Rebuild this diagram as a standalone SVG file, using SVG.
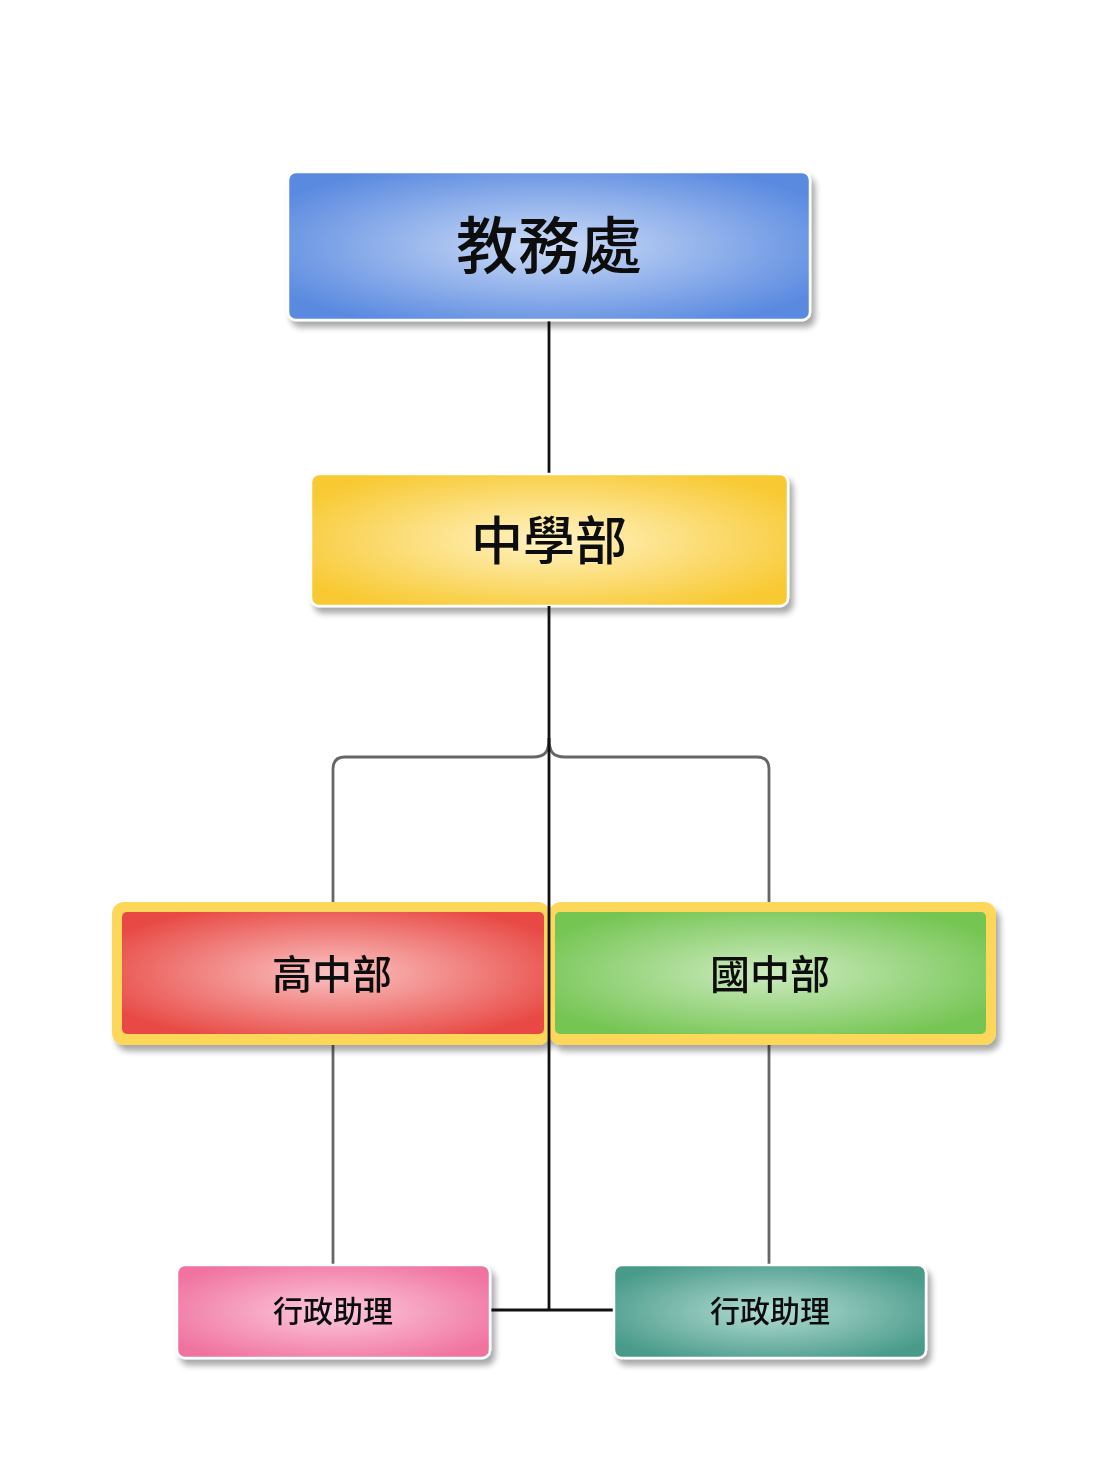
<svg xmlns="http://www.w3.org/2000/svg" width="1120" height="1462" viewBox="0 0 1120 1462">
<style>
.t{font-family:"Noto Sans CJK TC","Noto Sans CJK SC",sans-serif;font-weight:500;fill:#111;text-anchor:middle;dominant-baseline:central}
.box{stroke:#fff;stroke-width:2.5}
.blk{stroke:#111;stroke-width:2.8;fill:none}
.gry{stroke:#666;stroke-width:2.8;fill:none}
</style>
<defs>
<filter id="sh" x="-10%" y="-20%" width="125%" height="150%">
<feGaussianBlur in="SourceAlpha" stdDeviation="3"/>
<feOffset dx="4" dy="6" result="b"/>
<feComponentTransfer><feFuncA type="linear" slope="0.35"/></feComponentTransfer>
<feMerge><feMergeNode/><feMergeNode in="SourceGraphic"/></feMerge>
</filter>
<radialGradient id="gB" cx="0.5" cy="0.5" r="0.6"><stop offset="0" stop-color="#cddcf7"/><stop offset="1" stop-color="#5a8ae0"/></radialGradient>
<radialGradient id="gY" cx="0.5" cy="0.5" r="0.6"><stop offset="0" stop-color="#fff3c4"/><stop offset="1" stop-color="#f8c932"/></radialGradient>
<radialGradient id="gR" cx="0.5" cy="0.5" r="0.6"><stop offset="0" stop-color="#fac3c3"/><stop offset="1" stop-color="#e84a45"/></radialGradient>
<radialGradient id="gG" cx="0.5" cy="0.5" r="0.6"><stop offset="0" stop-color="#cdebc0"/><stop offset="1" stop-color="#74c552"/></radialGradient>
<radialGradient id="gP" cx="0.5" cy="0.5" r="0.6"><stop offset="0" stop-color="#fccadd"/><stop offset="1" stop-color="#f0739f"/></radialGradient>
<radialGradient id="gT" cx="0.5" cy="0.5" r="0.6"><stop offset="0" stop-color="#b3dcd3"/><stop offset="1" stop-color="#489a89"/></radialGradient>
</defs>
<rect width="1120" height="1462" fill="#fff"/>
<g id="connectors">
<path class="blk" d="M549 320V474"/>
<path class="gry" d="M549 738C549 752 545 757 533 757H345Q333 757 333 769V906"/>
<path class="gry" d="M549 738C549 752 553 757 565 757H757Q769 757 769 769V902"/>
<path class="gry" d="M333 1045V1265"/>
<path class="gry" d="M769 1045V1265"/>
<path class="blk" d="M490 1310H614"/>
</g>
<g id="n1" filter="url(#sh)"><rect class="box" x="288" y="172" width="522" height="148" rx="8" fill="url(#gB)"/><text class="t" x="549" y="242" font-size="62">教務處</text></g>
<g id="n2" filter="url(#sh)"><rect class="box" x="311" y="474" width="477" height="132" rx="8" fill="url(#gY)"/><text class="t" x="549" y="537" font-size="52">中學部</text></g>
<g id="n3" filter="url(#sh)"><rect x="112" y="902" width="438" height="143" rx="12" fill="#fdd75a"/><rect x="122" y="912" width="422" height="122" rx="5" fill="url(#gR)"/><text class="t" x="332" y="972" font-size="40">高中部</text></g>
<g id="n4" filter="url(#sh)"><rect x="549" y="902" width="447" height="143" rx="12" fill="#fdd75a"/><rect x="555" y="912" width="431" height="122" rx="5" fill="url(#gG)"/><text class="t" x="770" y="972" font-size="40">國中部</text></g>
<path class="blk" d="M549 606V1310"/>
<g id="n5" filter="url(#sh)"><rect class="box" x="177" y="1265" width="313" height="93" rx="8" fill="url(#gP)"/><text class="t" x="333" y="1309" font-size="30">行政助理</text></g>
<g id="n6" filter="url(#sh)"><rect class="box" x="614" y="1265" width="312" height="93" rx="8" fill="url(#gT)"/><text class="t" x="770" y="1309" font-size="30">行政助理</text></g>
</svg>
